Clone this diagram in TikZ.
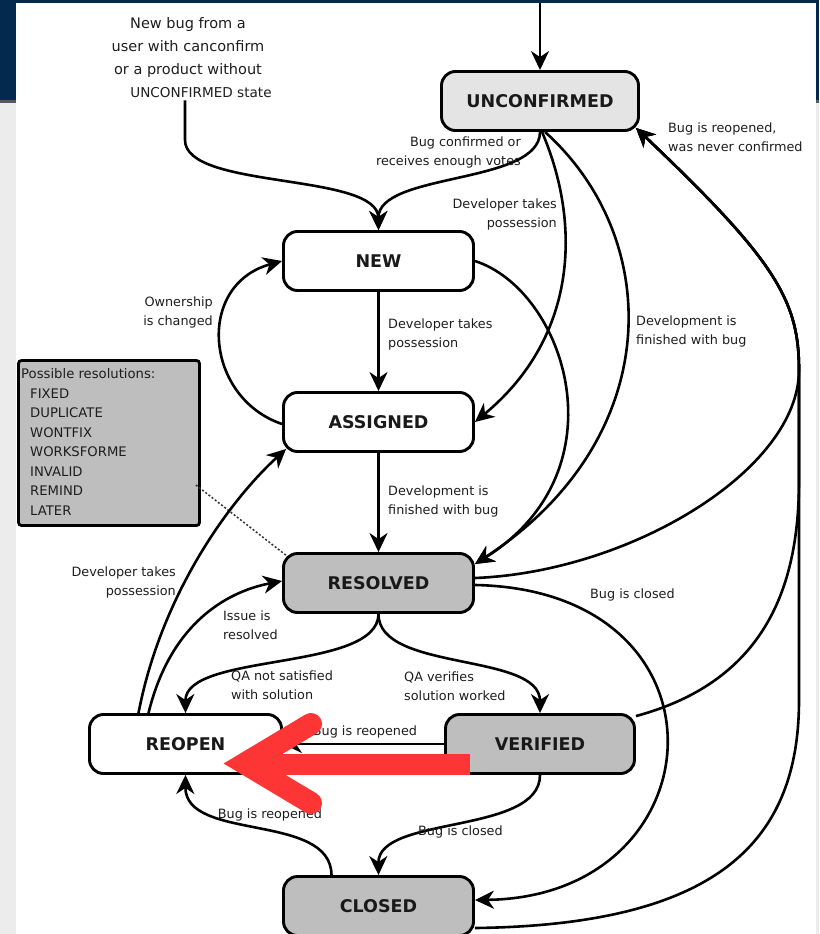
\documentclass[tikz,border=0pt]{standalone}
\usepackage{fontspec}
\setmainfont{DejaVu Sans}
\usetikzlibrary{arrows.meta,calc}
\definecolor{hdrblue}{HTML}{03294F}
\definecolor{pagegrey}{HTML}{ECECEC}
\definecolor{boxgrey}{HTML}{BEBEBE}
\definecolor{lightgrey}{HTML}{E4E4E4}
\definecolor{redmark}{HTML}{FE3535}
\definecolor{labelcol}{HTML}{1E1E1E}
\begin{document}
\begin{tikzpicture}[x=1pt,y=-1pt,
  state/.style={draw=black, line width=2.9pt, rounded corners=14pt, minimum width=190pt,
    minimum height=59pt, inner sep=0pt, font=\fontsize{17.5}{20}\selectfont\bfseries, text=black!90},
  edge/.style={line width=2.6pt, -{Stealth[length=19pt,width=18pt,inset=6pt]}},
  lbl/.style={font=\fontsize{12.8}{19}\selectfont, text=labelcol, inner sep=0pt},
  redline/.style={draw=redmark, line width=21pt}
]
% page background
\fill[pagegrey] (0,0) rectangle (819,934);
\fill[hdrblue] (0,0) rectangle (819,100);
\fill[black!65] (0,100) rectangle (819,102.5);
\fill[white] (16,3) rectangle (816,934);
\useasboundingbox (0,0) rectangle (819,934);

% states
\node[state, fill=lightgrey, minimum width=197pt] (unc) at (540,101) {UNCONFIRMED};
\node[state, fill=white] (new) at (378.5,261) {NEW};
\node[state, fill=white] (asg) at (378.5,422) {ASSIGNED};
\node[state, fill=boxgrey] (res) at (378.5,583) {RESOLVED};
\node[state, fill=white, minimum width=192pt] (reo) at (185.5,744) {REOPEN};
\node[state, fill=boxgrey, minimum width=189pt] (ver) at (540,744) {VERIFIED};
\node[state, fill=boxgrey] (clo) at (378.5,906) {CLOSED};

% resolutions box
\node[draw, line width=2.8pt, fill=boxgrey, rounded corners=3pt, minimum width=181pt,
  minimum height=165pt, inner sep=0pt] (resbox) at (109,443) {};
\node[lbl, anchor=north west, align=left, font=\fontsize{13.2}{19.5}\selectfont] (restext) at (21,368.5)
  {Possible resolutions:\\\hspace{9pt}FIXED\\\hspace{9pt}DUPLICATE\\\hspace{9pt}WONTFIX\\\hspace{9pt}WORKSFORME\\\hspace{9pt}INVALID\\\hspace{9pt}REMIND\\\hspace{9pt}LATER};
\draw[line width=1.5pt, dash pattern=on 2pt off 2pt, black!80] ([shift={(-5,42)}]resbox.east) -- ([shift={(5,4)}]res.north west);

% entry
\coordinate (topin) at (540,3);
\draw[edge] (topin) -- (unc.north);
\node[lbl, font=\fontsize{14.5}{23}\selectfont, align=center] (newtxt) at (188,58)
  {New bug from a\\user with canconfirm\\or a product without\\\hspace*{26pt}{\fontsize{13.6}{23}\selectfont UNCONFIRMED state}};
\draw[edge] ([xshift=-3pt,yshift=-2pt]newtxt.south) -- (185,140) .. controls (185,190) and (378,172) .. (new.north);

% from UNCONFIRMED
\draw[edge] (unc.south) .. controls (540,185) and (378,172) .. (new.north);
\draw[edge] ([xshift=2pt]unc.south) .. controls (580,220) and (580,335) .. (asg.east);
\draw[edge] ([xshift=5pt]unc.south) .. controls (665,240) and (665,440) .. ([yshift=-12pt]res.north east);

% main column
\draw[edge] (new.south) -- (asg.north);
\draw[edge] (asg.south) -- (res.north);
\draw[edge] (new.east) .. controls (565,290) and (625,470) .. ([yshift=-12pt]res.north east);
\draw[edge] ([yshift=-2pt]asg.west) .. controls (205,398) and (195,285) .. (new.west);

% from REOPEN
\draw[edge] ([xshift=-47pt]reo.north) .. controls (160,600) and (225,505) .. ([shift={(4,-4)}]asg.south west);
\draw[edge] ([xshift=-37pt]reo.north) .. controls (170,625) and (225,592) .. ([yshift=2pt]res.west);

% from RESOLVED
\draw[edge] (res.south) .. controls (378,672) and (185,652) .. (reo.north);
\draw[edge] (res.south) .. controls (378,672) and (540,652) .. (ver.north);
\draw[edge] ([yshift=-2pt]res.east) .. controls (740,590) and (720,897) .. ([yshift=6pt]clo.east);

% from VERIFIED / CLOSED
\draw[edge] (ver.west) -- (reo.east);
\draw[edge] (ver.south) .. controls (540,835) and (378,815) .. (clo.north);
\draw[edge] ([xshift=-47pt]clo.north) .. controls (331,812) and (185,842) .. (reo.south);

% back to UNCONFIRMED (shared trunk)
\coordinate (J) at (799,370);
\draw[edge] ([yshift=5pt]res.east) .. controls (630,572) and (799,470) .. (J)
  .. controls (799,300) and (775,260) .. ([shift={(-4,-4)}]unc.south east);
\draw[edge] ([yshift=-3pt]ver.north east) .. controls (770,680) and (799,580) .. (799,480) -- (J)
  .. controls (799,300) and (775,260) .. ([shift={(-4,-4)}]unc.south east);
\draw[edge] ([yshift=-22pt]clo.east) .. controls (720,925) and (799,840) .. (799,700) -- (J)
  .. controls (799,300) and (775,260) .. ([shift={(-4,-4)}]unc.south east);

% labels
\node[lbl, anchor=east, align=right] (l1) at (521,152) {Bug confirmed or\\receives enough votes};
\node[lbl, anchor=east, align=right] (l2) at (557,214) {Developer takes\\possession};
\node[lbl, anchor=west, align=left] (l3) at (636,331) {Development is\\finished with bug};
\node[lbl, anchor=west, align=left] (l4) at (668,137) {Bug is reopened,\\was never confirmed};
\node[lbl, anchor=east, align=right] (l5) at (213,312) {Ownership\\is changed};
\node[lbl, anchor=west, align=left] (l6) at (388,334) {Developer takes\\possession};
\node[lbl, anchor=west, align=left] (l7) at (388,501) {Development is\\finished with bug};
\node[lbl, anchor=east, align=right] (l8) at (176,582) {Developer takes\\possession};
\node[lbl, anchor=west, align=left] (l9) at (223,625) {Issue is\\resolved};
\node[lbl, anchor=west, align=left] (l10) at (231,685) {QA not satisfied\\with solution};
\node[lbl, anchor=west, align=left] (l11) at (404,686) {QA verifies\\solution worked};
\node[lbl] (l12) at (365,732) {Bug is reopened};
\node[lbl, anchor=west] (l13) at (590,595) {Bug is closed};
\node[lbl, anchor=west] (l14) at (418,832) {Bug is closed};
\node[lbl] (l15) at (270,815) {Bug is reopened};

% red annotation arrow
\draw[redline] (470,764.5) -- (250,764.5);
\draw[draw=redmark, line width=22pt, line cap=round, line join=miter] (311,724) -- (245,763.5) -- (311,803);
\end{tikzpicture}
\end{document}
